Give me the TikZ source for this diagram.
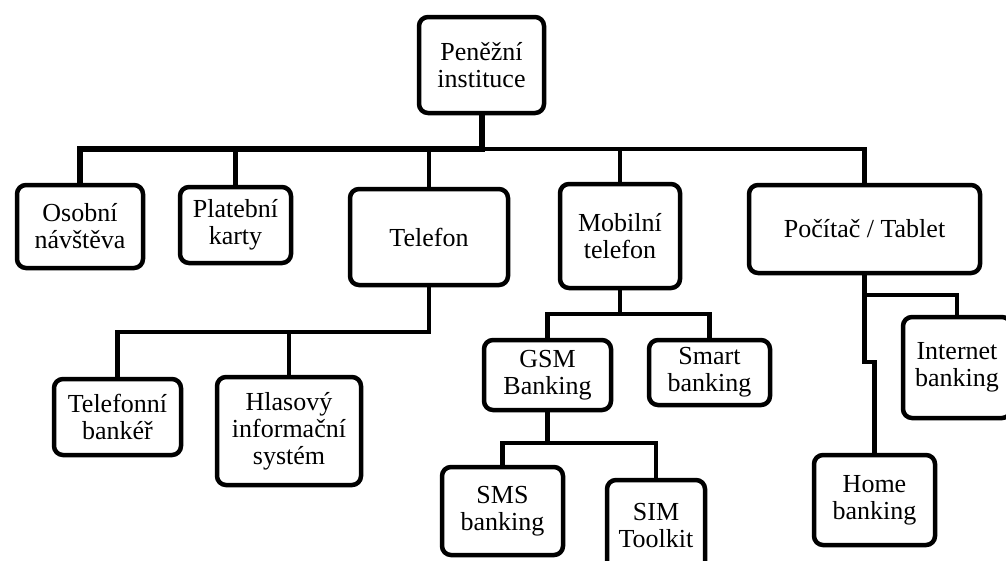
\documentclass[tikz,border=0pt]{standalone}
\usepackage{fontspec}
\setmainfont{Liberation Serif}
\begin{document}
\begin{tikzpicture}[x=1pt,y=-1pt,
  box/.style={draw=black,line width=4.5pt,rounded corners=9pt,fill=white,align=center,inner sep=0pt,
    font=\fontsize{26}{27}\selectfont},
  link/.style={draw=black,line width=4.5pt,line join=miter},
  mainlink/.style={draw=black,line width=6pt,line join=miter}]
\useasboundingbox (0,0) rectangle (1006,560);
% nodes
\node[box,minimum width=125pt,minimum height=96pt] (root) at (481.5,65) {Peněžní\\instituce};
\node[box,minimum width=126pt,minimum height=83pt] (osobni) at (80,226.5) {Osobní\\návštěva};
\node[box,minimum width=111pt,minimum height=76pt] (platebni) at (235.5,225) {Platební\\karty};
\node[box,minimum width=158pt,minimum height=96pt] (telefon) at (429,237) {Telefon};
\node[box,minimum width=120pt,minimum height=104pt] (mobilni) at (620,236) {Mobilní\\telefon};
\node[box,minimum width=231pt,minimum height=88pt] (pocitac) at (864.5,229) {Počítač / Tablet};
\node[box,minimum width=127pt,minimum height=76pt] (telefonni) at (117.5,417) {Telefonní\\bankéř};
\node[box,minimum width=144pt,minimum height=108pt] (hlasovy) at (289,431) {Hlasový\\informační\\systém};
\node[box,minimum width=127pt,minimum height=70pt] (gsm) at (547.5,375) {GSM\\Banking};
\node[box,minimum width=121pt,minimum height=65pt] (smart) at (709.5,372.5) {Smart\\banking};
\node[box,minimum width=121pt,minimum height=88pt] (sms) at (502.5,511) {SMS\\banking};
\node[box,minimum width=98pt,minimum height=92pt] (sim) at (656,526) {SIM\\Toolkit};
\node[box,minimum width=108pt,minimum height=101pt] (internet) at (957,367.5) {Internet\\banking};
\node[box,minimum width=121pt,minimum height=90pt] (home) at (874.5,500) {Home\\banking};
% junction coordinates
\coordinate (bus) at (481.5,149);
\coordinate (tbus) at (429,332);
\coordinate (mbus) at (620,314);
\coordinate (gbus) at (547.5,443);
\coordinate (pbus) at (864.5,295);
\coordinate (pjog) at (864.5,362);
% main bus
\draw[mainlink] (root.south) -- (bus) -| (osobni.north);
\draw[link] (bus) -| (pocitac.north);
\draw[link] (platebni.north) -- (platebni.north |- bus);
\draw[link] (telefon.north) -- (telefon.north |- bus);
\draw[link] (mobilni.north) -- (mobilni.north |- bus);
% telefon
\draw[link] (telefon.south) -- (tbus) -| (telefonni.north);
\draw[link] (hlasovy.north) -- (hlasovy.north |- tbus);
% mobilni
\draw[link] (mobilni.south) -- (mbus) -| (gsm.north);
\draw[link] (mbus) -| (smart.north);
% gsm
\draw[link] (gsm.south) -- (gbus) -| (sms.north);
\draw[link] (gbus) -| (sim.north);
% pocitac
\draw[link] (pocitac.south) -- (pbus) -| (internet.north);
\draw[link] (pbus) -- (pjog) -| (home.north);
\end{tikzpicture}
\end{document}
